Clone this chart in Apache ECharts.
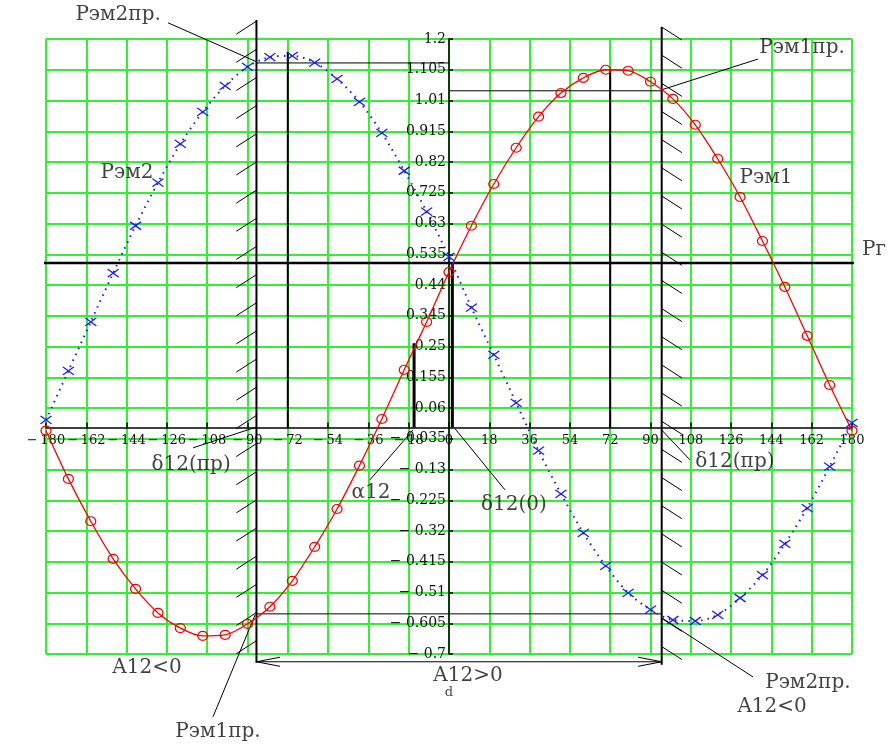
<!DOCTYPE html>
<html>
<head>
<meta charset="utf-8">
<script src="https://cdn.jsdelivr.net/npm/echarts@6/dist/echarts.min.js"></script>
<style>
html, body { margin: 0; padding: 0; background: #fff; }
#chart { width: 891px; height: 745px; }
</style>
</head>
<body>
<div id="chart"></div>
<script>
// угол δ12, град
var delta = [-180, -170, -160, -150, -140, -130, -120, -110, -100, -90, -80, -70, -60, -50, -40, -30, -20, -10,
  0, 10, 20, 30, 40, 50, 60, 70, 80, 90, 100, 110, 120, 130, 140, 150, 160, 170, 180];
// Рэм1 (красная)
var pem1 = [-0.01, -0.159, -0.29, -0.406, -0.499, -0.573, -0.62, -0.644, -0.641, -0.607, -0.554, -0.474, -0.369, -0.252, -0.118, 0.026, 0.178, 0.326,
  0.48, 0.623, 0.752, 0.864, 0.96, 1.033, 1.08, 1.105, 1.102, 1.068, 1.015, 0.935, 0.83, 0.712, 0.576, 0.434, 0.283, 0.131, -0.01];
// Рэм2 (синяя)
var pem2 = [0.023, 0.175, 0.326, 0.477, 0.623, 0.756, 0.876, 0.975, 1.055, 1.114, 1.144, 1.148, 1.127, 1.077, 1.006, 0.91, 0.793, 0.667,
  0.527, 0.37, 0.224, 0.076, -0.072, -0.205, -0.326, -0.428, -0.511, -0.563, -0.595, -0.598, -0.579, -0.527, -0.456, -0.36, -0.249, -0.121, 0.014];

// характерные значения
var dPrLeft = -86, dPrRight = 95;     // δ12(пр)
var pg = 0.508;                        // Рг
var alpha12 = -15.6, alphaTop = 0.26;  // α12
var d0 = 1.5;                          // δ12(0)
var pem2pr = 1.126, pem1pr = 1.04, pemLow = -0.576, arrowY = -0.724;

// выноски
var leaders = [
  [[-125.5, 1.25], [-85.75, 1.129]],
  [[138, 1.138], [95, 1.043]],
  [[-114.3, -0.063], [-86.5, 0]],
  [[95, -0.008], [107.6, -0.1]],
  [[-35.3, -0.162], [-16.1, -0.008]],
  [[2.7, -0.004], [25, -0.193]],
  [[-105.4, -0.894], [-86.6, -0.579]],
  [[135.8, -0.771], [95, -0.588]]
];

// подписи: текст, δ, P, выравнивание
var notes = [
  ['Рэм2пр.', -147.8, 1.274, 'center'],
  ['Рэм1пр.', 157.7, 1.172, 'center'],
  ['Рэм2', -143.8, 0.786, 'center'],
  ['Рэм1', 141.6, 0.771, 'center'],
  ['Рг', 184.5, 0.548, 'left'],
  ['δ12(пр)', -115.2, -0.116, 'center'],
  ['δ12(пр)', 127.7, -0.106, 'center'],
  ['α12', -34.8, -0.202, 'center'],
  ['δ12(0)', 29, -0.24, 'center'],
  ['A12<0', -134.9, -0.743, 'center'],
  ['A12>0', 8.5, -0.768, 'center'],
  ['Рэм1пр.', -103.2, -0.94, 'center'],
  ['Рэм2пр.', 160.3, -0.789, 'center'],
  ['A12<0', 144.3, -0.863, 'center']
];

var FONT = 'DejaVu Serif';
var hatchStep = 0.087, hatchDx = 9, hatchDy = 0.04;

function hatch(x, yTop, yBot, dir) {
  var out = [];
  for (var y = yTop; y > yBot + 0.02; y -= hatchStep) {
    out.push([[x, y], [x + dir * hatchDx, y - hatchDy]]);
  }
  return out;
}

function segData(list) {
  var out = [];
  list.forEach(function (s) {
    out.push(s[0], s[1], ['-', '-']);
  });
  return out;
}

var thin = leaders.concat(
  [[[dPrLeft, pem2pr], [0, pem2pr]],
   [[0, pem1pr], [dPrRight, pem1pr]],
   [[dPrLeft, pemLow], [dPrRight, pemLow]],
   [[dPrLeft, arrowY], [dPrRight, arrowY]],
   [[dPrLeft + 10.5, arrowY + 0.014], [dPrLeft, arrowY]],
   [[dPrLeft + 10.5, arrowY - 0.014], [dPrLeft, arrowY]],
   [[dPrRight - 10.5, arrowY + 0.014], [dPrRight, arrowY]],
   [[dPrRight - 10.5, arrowY - 0.014], [dPrRight, arrowY]]],
  hatch(dPrLeft, 1.255, -0.727, -1),
  hatch(dPrRight, 1.237, -0.733, 1)
);

var medium = [
  [[dPrLeft, 1.259], [dPrLeft, -0.727]],
  [[dPrRight, 1.237], [dPrRight, -0.733]],
  [[-72, 1.16], [-72, 0]],
  [[72, 1.107], [72, 0]]
];

var thick = [
  [[alpha12, alphaTop], [alpha12, 0]],
  [[d0, pg], [d0, 0]]
];

function fmt(v) {
  var a = parseFloat(Math.abs(v).toFixed(3));
  return (v < -1e-9 ? '\u2212 ' : '') + a;
}

function fmtX(v) {
  return (v < 0 ? '\u2212\u2009' : '') + Math.abs(v);
}

function pairs(ys) {
  return delta.map(function (d, i) { return [d, ys[i]]; });
}

// оси проходят через ноль: сдвиг от края сетки
var gridL = 46, gridR = 39, gridT = 39, gridB = 91, W = 891, H = 745;
var plotW = W - gridL - gridR, plotH = H - gridT - gridB;
var xShift = -(plotW * 180 / 360);
var yShift = -(plotH * 0.7 / 1.9);

var chart = echarts.init(document.getElementById('chart'));
chart.setOption({
  animation: false,
  backgroundColor: '#fff',
  grid: { left: gridL, right: gridR, top: gridT, bottom: gridB, containLabel: false, outerBoundsMode: 'none' },
  xAxis: {
    type: 'value', min: -180, max: 180, interval: 18, position: 'bottom', offset: yShift,
    axisLine: { onZero: false, lineStyle: { color: '#000', width: 1.5 } },
    axisTick: { inside: true, length: 5, lineStyle: { color: '#000', width: 1.5 } },
    axisLabel: { formatter: fmtX, fontFamily: FONT, fontSize: 13, color: '#111', margin: 7,
      showMinLabel: true, showMaxLabel: true, hideOverlap: false },
    splitLine: { show: true, lineStyle: { color: '#33f033', width: 2 } }
  },
  yAxis: {
    type: 'value', min: -0.7, max: 1.2, interval: 0.095, position: 'left', offset: xShift,
    axisLine: { onZero: false, lineStyle: { color: '#000', width: 1.5 } },
    axisTick: { inside: true, length: 4, lineStyle: { color: '#000', width: 1.5 } },
    axisLabel: { formatter: fmt, fontFamily: FONT, fontSize: 14, color: '#111', margin: 3,
      showMinLabel: true, showMaxLabel: true, hideOverlap: false },
    splitLine: { show: true, lineStyle: { color: '#33f033', width: 2 } }
  },
  series: [
    {
      name: 'thin', type: 'line', data: segData(thin), symbol: 'none', clip: false, silent: true,
      lineStyle: { color: '#000', width: 1 }, z: 3
    },
    {
      name: 'medium', type: 'line', data: segData(medium), symbol: 'none', clip: false, silent: true,
      lineStyle: { color: '#000', width: 2 }, z: 3
    },
    {
      name: 'thick', type: 'line', data: segData(thick), symbol: 'none', clip: false, silent: true,
      lineStyle: { color: '#000', width: 3 }, z: 3
    },
    {
      name: 'Рг', type: 'line', data: [[-196, pg], [193, pg]], symbol: 'none', clip: false, silent: true,
      lineStyle: { color: '#000', width: 2.5 }, z: 3
    },
    {
      name: 'Рэм1', type: 'line', data: pairs(pem1), smooth: 0.3, clip: false,
      symbol: 'path://M10,5A5,5,0,1,1,0,5A5,5,0,1,1,10,5Z', symbolSize: [10, 9], showAllSymbol: true,
      itemStyle: { color: 'rgba(0,0,0,0)', borderColor: '#ff0000', borderWidth: 1.2 },
      lineStyle: { color: '#ff0000', width: 1.3 }, z: 4
    },
    {
      name: 'Рэм2', type: 'line', data: pairs(pem2), smooth: 0.3, clip: false,
      symbol: 'path://M0,0L10,10M10,0L0,10', symbolSize: [11, 8], showAllSymbol: true,
      itemStyle: { color: 'rgba(0,0,0,0)', borderColor: '#1a1aff', borderWidth: 1.3 },
      lineStyle: { color: '#1a1aff', width: 2, type: [1.5, 5] }, z: 4
    },
    {
      name: 'notes', type: 'scatter', symbolSize: 0, clip: false, silent: true, z: 5,
      data: notes.map(function (n) {
        return {
          value: [n[1], n[2]],
          label: { show: true, formatter: n[0], position: 'inside', align: n[3], verticalAlign: 'middle' }
        };
      }).concat([{
        value: [0, -0.82],
        label: { show: true, formatter: 'd', fontSize: 13, position: 'inside', align: 'center', verticalAlign: 'middle' }
      }]),
      label: { fontFamily: FONT, fontSize: 20, color: '#111' }
    }
  ]
});
</script>
</body>
</html>
